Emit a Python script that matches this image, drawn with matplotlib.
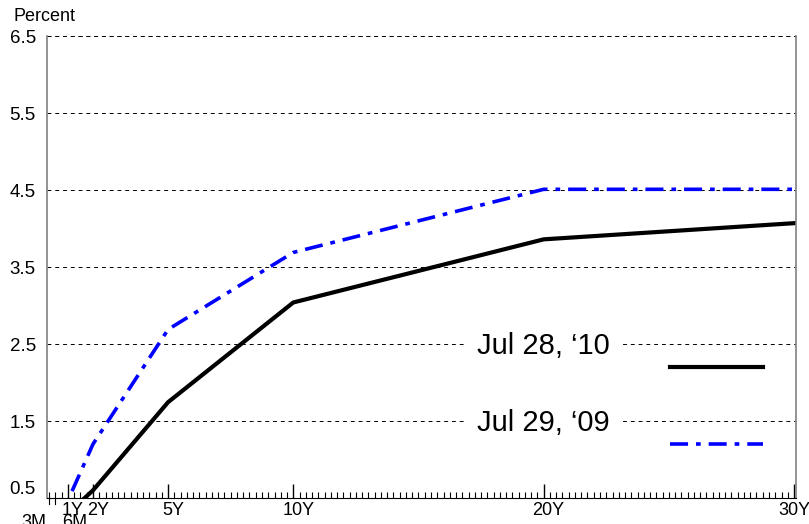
import matplotlib
matplotlib.use("Agg")
import matplotlib.pyplot as plt
import matplotlib.transforms as mtransforms
from matplotlib.ticker import FixedLocator, NullFormatter

plt.rcParams['font.family'] = ['Liberation Sans', 'DejaVu Sans']

# maturities in years
maturities = [0.25, 0.5, 1, 2, 5, 10, 20, 30]
yields_2010 = [0.15, 0.20, 0.30, 0.60, 1.745, 3.04, 3.86, 4.07]
yields_2009 = [0.19, 0.28, 0.47, 1.20, 2.69, 3.69, 4.51, 4.51]
label_2010 = "Jul 28, \u201810"
label_2009 = "Jul 29, \u201809"

major_x = [1, 2, 5, 10, 20, 30]
major_labels = ["1Y", "2Y", "5Y", "10Y", "20Y", "30Y"]
y_ticks = [0.5, 1.5, 2.5, 3.5, 4.5, 5.5, 6.5]

fig = plt.figure(figsize=(8.09, 5.24), dpi=100)
ax = fig.add_axes([0.058, 0.0496, 0.926, 0.8815])

ax.plot(maturities, yields_2010, color="black", lw=3.0, clip_on=True)
ax.plot(maturities, yields_2009, color="#0000ff", lw=2.6,
        dashes=(5, 2.2, 1.3, 2.2), clip_on=True)

ax.set_xlim(0.16, 30.08)
ax.set_ylim(0.5, 6.5)

# y grid / ticks
ax.set_yticks(y_ticks)
ax.tick_params(axis="y", length=0, pad=8)
ax.set_yticklabels([f"{v:.1f}" for v in y_ticks], fontsize=13.5)
ax.get_yticklabels()[0].set_va("bottom")
for v in y_ticks[1:]:
    ax.axhline(v, color="black", lw=0.7, ls=(0, (4, 4)), zorder=0)

# x ticks
ax.xaxis.set_major_locator(FixedLocator(major_x))
ax.xaxis.set_minor_locator(FixedLocator([q / 4 for q in range(1, 121)]))
ax.xaxis.set_minor_formatter(NullFormatter())
ax.tick_params(axis="x", direction="in", length=10, width=1, pad=3)
ax.tick_params(axis="x", which="minor", direction="in", length=4, width=0.8)
ax.set_xticklabels(major_labels, fontsize=13)
shift = mtransforms.ScaledTranslation(5 / 100, 0, fig.dpi_scale_trans)
for tick in ax.xaxis.get_major_ticks()[:-1]:
    tick.label1.set_transform(tick.label1.get_transform() + shift)

# 3M and 6M ticks pointing downwards
for xv, txt, ha in [(0.25, "3M", "right"), (0.5, "6M", "left")]:
    ax.plot([xv, xv], [0.5, 0.42], color="black", lw=0.8, clip_on=False)
    ax.text(xv + (-0.12 if ha == "right" else 0.25), 0.29, txt, ha=ha, va="top",
            fontsize=13)

for side in ["left", "right"]:
    ax.spines[side].set_color("#808080")
    ax.spines[side].set_linewidth(1.2)
ax.spines["top"].set_visible(False)
ax.axhline(6.5, color="black", lw=0.7, ls=(0, (4, 4)), zorder=0, clip_on=False)
ax.spines["bottom"].set_color("black")

fig.text(0.017, 0.968, "Percent", fontsize=13, ha="left", va="center")

# legend drawn by hand
box = dict(facecolor="white", edgecolor="none", pad=8)
ax.text(17.32, 2.47, label_2010, fontsize=21, ha="left", va="center", bbox=box)
ax.text(17.32, 1.47, label_2009, fontsize=21, ha="left", va="center", bbox=box)
ax.plot([25.05, 28.75], [2.2, 2.2], color="black", lw=3.0)
ax.plot([25.05, 28.75], [1.2, 1.2], color="#0000ff", lw=2.6,
        dashes=(5, 2.2, 1.3, 2.2))

fig.savefig("out.png", dpi=100)
